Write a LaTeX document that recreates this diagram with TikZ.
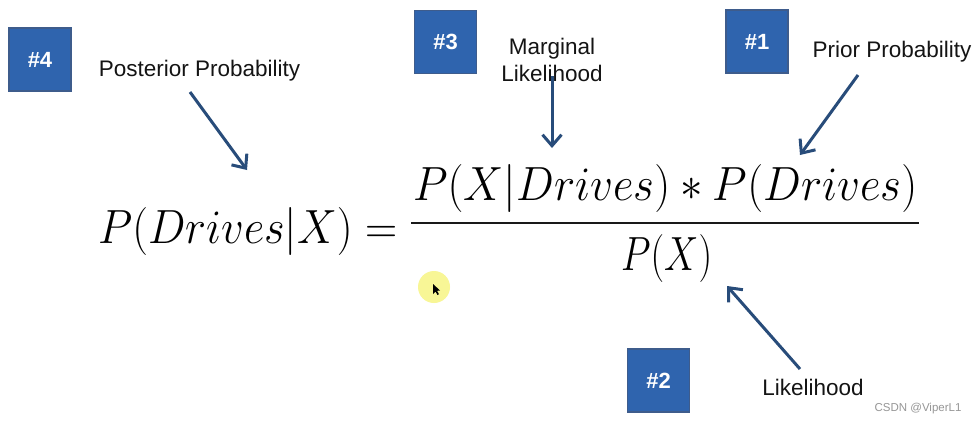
\RequirePackage{fix-cm}
\documentclass[tikz,border=0pt]{standalone}
\usepackage[no-math]{fontspec}
\setmainfont{Liberation Sans}
\usepackage{graphicx}
\usetikzlibrary{arrows.meta}
\definecolor{boxfill}{RGB}{47,100,174}
\definecolor{boxline}{RGB}{62,92,140}
\definecolor{arrowc}{RGB}{40,76,122}
\definecolor{cursorc}{RGB}{248,246,150}
\definecolor{wmark}{RGB}{150,150,150}
\begin{document}
\begin{tikzpicture}[x=1pt,y=-1pt,
  numbox/.style={draw=boxline, line width=1.5pt, fill=boxfill, minimum width=62pt, minimum height=63pt, inner sep=0pt, text=white, font=\fontsize{22}{24}\selectfont\bfseries},
  lbl/.style={font=\fontsize{22.5}{27}\selectfont, text=black!92, align=center, inner sep=0pt},
  callout/.style={draw=arrowc, line width=3pt, -{Straight Barb[length=11pt,width=19pt,line width=3pt]}},
  eq/.style={inner sep=0pt, font=\fontsize{48}{50}\selectfont}
]
\useasboundingbox[fill=white] (0,0) rectangle (979,424);

% numbered boxes
\node[numbox] (b4) at (40,59.5) {\#4};
\node[numbox] (b3) at (445.5,42) {\#3};
\node[numbox] (b1) at (757,41.5) {\#1};
\node[numbox] (b2) at (658.5,380.5) {\#2};

% labels
\node[lbl, anchor=base] (post) at (199.5,76) {Posterior Probability};
\node[lbl, anchor=base] (marg) at (552,81) {Marginal\\Likelihood};
\node[lbl, anchor=base] (prior) at (892,57) {Prior Probability};
\node[lbl, anchor=base] (like) at (813,395) {Likelihood};

% equation
\node[eq, anchor=base west] (lhs) at (98,243) {\resizebox{299pt}{\height}{$P(Drives|X) =$}};
\node[eq, anchor=base west] (num) at (413,200) {\resizebox{504pt}{\height}{$P(X|Drives) \ast P(Drives)$}};
\node[eq, anchor=base west] (den) at (621,270) {\resizebox{91pt}{\height}{$P(X)$}};
\coordinate (barL) at (411,223);
\coordinate (barR) at (919,223);
\draw[line width=2.4pt, black!90] (barL) -- (barR);

% arrows
\coordinate (t4) at (190,92);   \coordinate (h4) at (247,170);
\coordinate (t3) at (552,76);   \coordinate (h3) at (552,148);
\coordinate (t1) at (858,75);   \coordinate (h1) at (800,155);
\coordinate (t2) at (800,369);  \coordinate (h2) at (727,286);
\draw[callout] (t4) -- (h4);
\draw[callout] (t3) -- (h3);
\draw[callout] (t1) -- (h1);
\draw[callout] (t2) -- (h2);

% cursor highlight
\fill[cursorc] (434,287) circle (16);
\fill[black] (433,284) -- (433,294) -- (435.5,291.5) -- (437.5,295) -- (439,294.2) -- (437,290.8) -- (440,290.5) -- cycle;

% watermark
\node[font=\fontsize{11.5}{13}\selectfont, text=wmark, inner sep=0pt] (wm) at (918,409) {CSDN @ViperL1};
\end{tikzpicture}
\end{document}
